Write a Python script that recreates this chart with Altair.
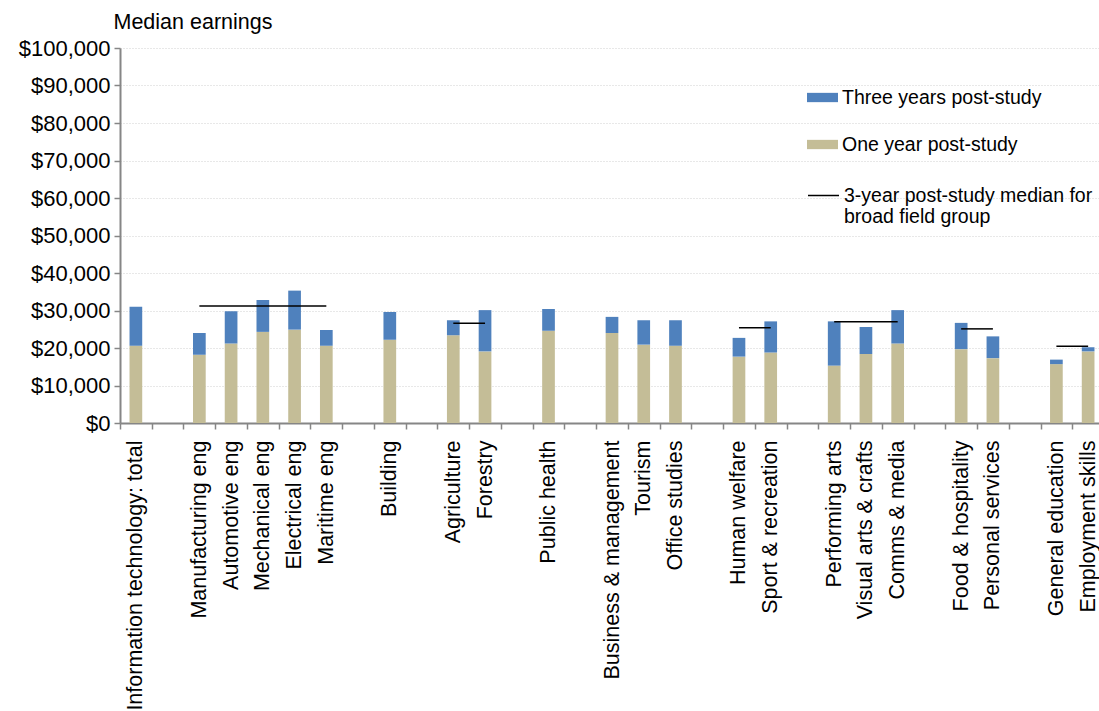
import altair as alt
import pandas as pd

# ---- data -------------------------------------------------------------
groups = [
    ["Information technology: total"],
    ["Manufacturing eng", "Automotive eng", "Mechanical eng", "Electrical eng", "Maritime eng"],
    ["Building"],
    ["Agriculture", "Forestry"],
    ["Public health"],
    ["Business & management", "Tourism", "Office studies"],
    ["Human welfare", "Sport & recreation"],
    ["Performing arts", "Visual arts & crafts", "Comms & media"],
    ["Food & hospitality", "Personal services"],
    ["General education", "Employment skills"],
]

one_year = [20600,
            18200, 21200, 24300, 24900, 20600,
            22200,
            23400, 19100,
            24600,
            24000, 20900, 20600,
            17700, 18800,
            15300, 18400, 21200,
            19700, 17300,
            15700, 19100]

three_year = [31000,
              24000, 29800, 32800, 35300, 24800,
              29600,
              27400, 30100,
              30400,
              28300, 27400, 27400,
              22700, 27100,
              27100, 25600, 30100,
              26700, 23100,
              16900, 20200]

median_first = ["Manufacturing eng", "Agriculture", "Human welfare", "Performing arts",
                "Food & hospitality", "General education"]
median_last = ["Maritime eng", "Forestry", "Sport & recreation", "Comms & media",
               "Personal services", "Employment skills"]
median_value = [31200, 26600, 25400, 27000, 25100, 20500]

SER3 = "Three years post-study"
SER1 = "One year post-study"
MED = "3-year post-study median for broad field group"

# ---- tables -----------------------------------------------------------
slots = []
cats = []
for gi, g in enumerate(groups):
    if gi > 0:
        slots.append(f"_gap{gi}")
    slots.extend(g)
    cats.extend(g)

rows = []
for c, a, b in zip(cats, one_year, three_year):
    rows.append({"cat": c, "series": SER1, "lo": 0, "hi": a})
    rows.append({"cat": c, "series": SER3, "lo": a, "hi": b})
bars_df = pd.DataFrame(rows)

med_df = pd.DataFrame({"first": median_first, "last": median_last,
                       "value": median_value, "series": [MED] * len(median_value)})

FONT = "Liberation Sans"
BLUE = "#4F81BD"
TAN = "#C4BD97"
AXIS_GREY = "#868686"

x_scale = alt.Scale(domain=slots, paddingInner=0, paddingOuter=0)
y_scale = alt.Scale(domain=[0, 100000], nice=False)

x_axis = alt.Axis(
    title=None, labelAngle=-90, labelFontSize=21.5, labelFont=FONT, labelColor="black",
    labelLimit=400, labelPadding=11, tickBand="extent", tickSize=6, tickColor=AXIS_GREY,
    tickWidth=1.5, domainColor=AXIS_GREY, domainWidth=2, grid=False, labelOverlap=False,
    labelExpr="indexof(datum.label, '_gap') == 0 ? '' : datum.label",
)
y_axis = alt.Axis(
    title="Median earnings", titleAngle=0, titleAlign="left", titleBaseline="alphabetic",
    titleX=-7, titleY=-20, titleFontSize=21.5, titleFont=FONT, titleFontWeight="normal",
    titleColor="black",
    values=list(range(0, 100001, 10000)), format="$,.0f", labelOverlap=False,
    labelFontSize=22, labelFont=FONT, labelColor="black", labelPadding=4,
    tickSize=6, tickColor=AXIS_GREY, tickWidth=1.5, domainColor=AXIS_GREY, domainWidth=2,
    grid=True, gridColor="#D0D0D0", gridDash=[1, 2], gridWidth=1,
)

bars = alt.Chart(bars_df).mark_bar(width=alt.RelativeBandSize(0.4)).encode(
    x=alt.X("cat:N", scale=x_scale, axis=x_axis, sort=slots),
    y=alt.Y("hi:Q", scale=y_scale, axis=y_axis),
    y2="lo:Q",
    fill=alt.Fill("series:N",
                  scale=alt.Scale(domain=[SER3, SER1], range=[BLUE, TAN]),
                  legend=alt.Legend(
                      title=None, orient="none", legendX=687, legendY=34,
                      symbolType="M-1,-0.3H1V0.3H-1Z", symbolSize=961,
                      symbolStrokeWidth=0, labelFontSize=19.5, labelFont=FONT,
                      labelColor="black", labelOffset=4, rowPadding=22, padding=0,
                      labelLimit=400)),
)

meds = alt.Chart(med_df).mark_rule(strokeWidth=1.5).encode(
    x=alt.X("first:N", scale=x_scale, sort=slots, axis=x_axis),
    x2="last:N",
    y=alt.Y("value:Q", scale=y_scale, axis=y_axis),
    stroke=alt.Stroke("series:N",
                      scale=alt.Scale(domain=[MED], range=["black"]),
                      legend=alt.Legend(
                          title=None, orient="none", legendX=687, legendY=131,
                          symbolType="stroke", symbolSize=961, symbolStrokeWidth=1.5,
                          labelFontSize=19.5, labelFont=FONT, labelColor="black",
                          labelOffset=4, padding=0, labelLimit=400,
                          labelExpr="['3-year post-study median for', 'broad field group']",
                          labelBaseline="middle")),
)

chart = alt.layer(bars, meds).properties(
    width=984, height=375,
    autosize=alt.AutoSizeParams(type="none"),
    padding={"left": 120, "top": 48, "right": -5, "bottom": 288},
    background="white",
).configure_view(stroke=None)

chart.save("out.html", embed_options={"renderer": "svg", "actions": False})
